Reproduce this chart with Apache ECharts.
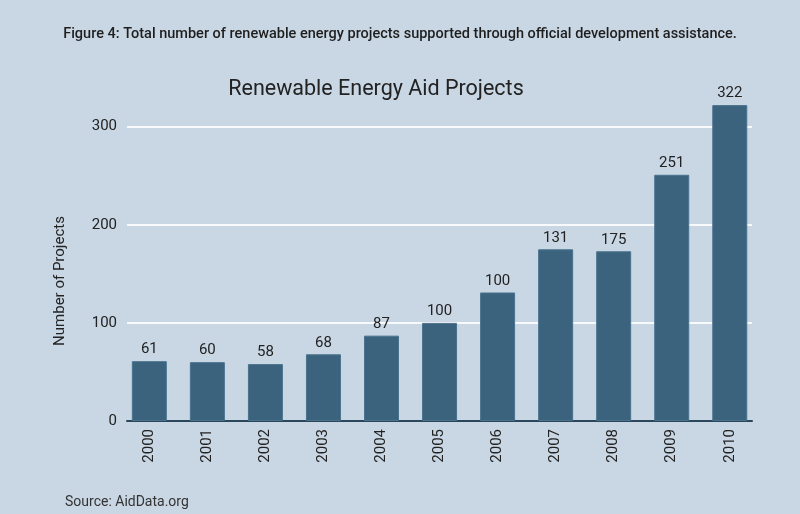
<!DOCTYPE html>
<html>
<head>
<meta charset="utf-8">
<script src="https://cdn.jsdelivr.net/npm/echarts@6/dist/echarts.min.js"></script>
<style>
  html, body { margin: 0; padding: 0; background: #c9d7e4; }
  #chart { width: 800px; height: 514px; }
</style>
</head>
<body>
<div id="chart"></div>
<script>
// Data
const years = ['2000','2001','2002','2003','2004','2005','2006','2007','2008','2009','2010'];
// bar heights as drawn
const barValues = [61, 60, 58, 68, 87, 100, 131, 175, 173, 251, 322];
// value labels as printed above each bar
const labelTexts = ['61', '60', '58', '68', '87', '100', '100', '131', '175', '251', '322'];
const yTicks = { min: 0, max: 300, interval: 100 };

const FONT = 'Roboto, "Liberation Sans", sans-serif';
const chart = echarts.init(document.getElementById('chart'), null, { renderer: 'canvas' });

chart.setOption({
  backgroundColor: '#c9d7e4',
  animation: false,
  title: [
    {
      text: 'Figure 4: Total number of renewable energy projects supported through official development assistance.',
      left: 'center', top: 22,
      textStyle: { fontFamily: FONT, fontSize: 14.5, fontWeight: 500, color: '#1e1e1e' }
    },
    {
      text: 'Renewable Energy Aid Projects',
      left: 371, top: 74, textAlign: 'center',
      textStyle: { fontFamily: FONT, fontSize: 21.5, fontWeight: 'normal', color: '#222' }
    },
    {
      text: 'Source: AidData.org',
      left: 60, top: 490,
      textStyle: { fontFamily: FONT, fontSize: 14, fontWeight: 'normal', color: '#333' }
    }
  ],
  graphic: [{
    type: 'text',
    x: 60, y: 281,
    rotation: Math.PI / 2,
    style: {
      text: 'Number of Projects',
      font: '15px ' + FONT,
      fill: '#222',
      align: 'center',
      verticalAlign: 'middle'
    }
  }],
  grid: [
    { left: 127, right: 48, top: 126.7, bottom: 93 },
    { left: 120.3, right: 41.2, top: 126.7, bottom: 93 }
  ],
  xAxis: [
    {
      gridIndex: 0, type: 'category', data: years,
      axisLine: { show: true, lineStyle: { color: '#2a475c', width: 2 } },
      axisTick: { show: false }, axisLabel: { show: false }, splitLine: { show: false }
    },
    {
      gridIndex: 1, type: 'category', data: years,
      axisLine: { show: false }, axisTick: { show: false },
      axisLabel: { rotate: 90, margin: 8, fontFamily: FONT, fontSize: 15, color: '#222' }
    }
  ],
  yAxis: [
    {
      gridIndex: 0, type: 'value', min: yTicks.min, max: yTicks.max, interval: yTicks.interval,
      axisLine: { show: false }, axisTick: { show: false },
      axisLabel: { margin: 10, fontFamily: FONT, fontSize: 15, color: '#222' },
      splitLine: { show: true, lineStyle: { color: '#f7f9fb', width: 2 } }
    },
    {
      gridIndex: 1, type: 'value', min: yTicks.min, max: yTicks.max, interval: yTicks.interval,
      show: false, splitLine: { show: false }
    }
  ],
  series: [{
    type: 'bar',
    xAxisIndex: 1, yAxisIndex: 1,
    data: barValues,
    clip: false,
    barWidth: 35,
    itemStyle: { color: '#3b637e', borderColor: '#4a728d', borderWidth: 1 },
    label: {
      show: true, position: 'top', distance: 4,
      fontFamily: FONT, fontSize: 15, color: '#222',
      formatter: p => labelTexts[p.dataIndex]
    }
  }]
});
</script>
</body>
</html>
